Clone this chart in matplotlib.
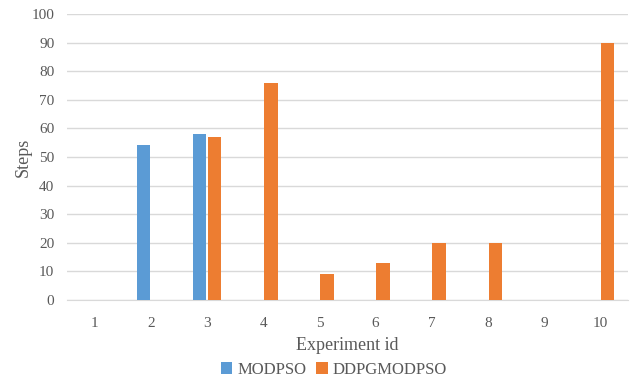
import matplotlib.pyplot as plt
import numpy as np

plt.rcParams['font.family'] = ['Liberation Serif', 'DejaVu Serif']

experiments = ['1', '2', '3', '4', '5', '6', '7', '8', '9', '10']
modpso = [0, 54, 58, 0, 0, 0, 0, 0, 0, 0]
ddpgmodpso = [0, 0, 57, 76, 9, 13, 20, 20, 0, 90]

blue = '#5B9BD5'
orange = '#ED7D31'
text_col = '#595959'

fig = plt.figure(figsize=(6.3, 3.87), dpi=100)
ax = fig.add_axes([0.106, 0.225, 0.891, 0.739])

x = np.arange(len(experiments))
w = 0.24
ax.bar(x - 0.135, modpso, w, color=blue, label='MODPSO', zorder=3)
ax.bar(x + 0.135, ddpgmodpso, w, color=orange, label='DDPGMODPSO', zorder=3)

ax.set_xlim(-0.5, len(experiments) - 0.5)
ax.set_ylim(0, 100)
ax.set_yticks(range(0, 101, 10))
ax.set_xticks(x)
ax.set_xticklabels(experiments)
ax.yaxis.grid(True, color='#D9D9D9', linewidth=1, zorder=0)
ax.set_axisbelow(True)

for s in ['top', 'right', 'left']:
    ax.spines[s].set_visible(False)
ax.spines['bottom'].set_color('#D9D9D9')
ax.tick_params(axis='both', length=0, labelsize=11, colors=text_col, pad=9)
ax.tick_params(axis='x', pad=12)

ax.set_xlabel('Experiment id', fontsize=13, color=text_col, labelpad=5)
ax.set_ylabel('Steps', fontsize=13, color=text_col, labelpad=0)

fig.legend(loc='lower center', bbox_to_anchor=(0.53, -0.015), ncol=2, frameon=False,
           fontsize=12, labelcolor=text_col, handlelength=0.7, handleheight=0.7,
           handletextpad=0.3, columnspacing=0.6)

fig.savefig('out.png', dpi=100)
